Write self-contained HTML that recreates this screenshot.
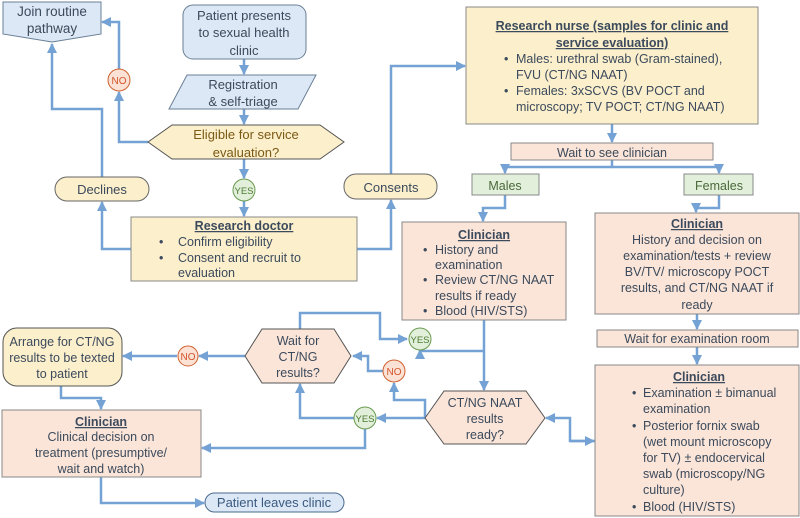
<!DOCTYPE html>
<html><head><meta charset="utf-8"><style>
html,body{margin:0;padding:0;background:#fff}
svg{display:block}
text{font-family:"Liberation Sans",sans-serif;font-size:12.5px;fill:#3b4a5c}
.c{text-anchor:middle}
.b{font-weight:bold;text-decoration:underline}
.ln{fill:none;stroke:#74a2d4;stroke-width:2.5}
</style></head><body>
<svg width="800" height="518" viewBox="0 0 800 518" xmlns="http://www.w3.org/2000/svg">
<defs>
<marker id="a" viewBox="0 0 10 10" refX="9" refY="5" markerWidth="4" markerHeight="4" orient="auto"><path d="M0,0L10,5L0,10z" fill="#74a2d4"/></marker>
</defs>
<g class="ln">
<path d="M244,59V74" marker-end="url(#a)"/>
<path d="M244,109V124" marker-end="url(#a)"/>
<path d="M244,159V178" marker-end="url(#a)"/>
<path d="M244,201V216" marker-end="url(#a)"/>
<path d="M148,142H119V92" marker-end="url(#a)"/>
<path d="M119,69V22H102" marker-end="url(#a)"/>
<path d="M102,177V109H52V44" marker-end="url(#a)"/>
<path d="M131,249H102V202" marker-end="url(#a)"/>
<path d="M357,249H391V200" marker-end="url(#a)"/>
<path d="M391,174V66H465" marker-end="url(#a)"/>
<path d="M612,124V142" marker-end="url(#a)"/>
<path d="M612,160V167H505V173" marker-end="url(#a)"/>
<path d="M612,167H719V173" marker-end="url(#a)"/>
<path d="M505,195V208H483V221" marker-end="url(#a)"/>
<path d="M719,195V208H696V212" marker-end="url(#a)"/>
<path d="M697,314V329" marker-end="url(#a)"/>
<path d="M697,347V364" marker-end="url(#a)"/>
<path d="M484,320V390" marker-end="url(#a)"/>
<path d="M484,351H420V350" marker-end="url(#a)"/>
<path d="M300,329V313H380V339H407" marker-end="url(#a)"/>
<path d="M425,418H377" marker-end="url(#a)"/>
<path d="M425,418V400H394V383" marker-end="url(#a)"/>
<path d="M383,371H368V356H353" marker-end="url(#a)"/>
<path d="M354,418H300V384" marker-end="url(#a)"/>
<path d="M365,429V448H202" marker-end="url(#a)"/>
<path d="M245,356H199" marker-end="url(#a)"/>
<path d="M177,356H123" marker-end="url(#a)"/>
<path d="M61,386V398H101V409" marker-end="url(#a)"/>
<path d="M101,477V503H204" marker-end="url(#a)"/>
<path d="M595,441H570V418H546" marker-end="url(#a)"/>
<path d="M570,441H594" marker-end="url(#a)"/>
</g>
<path d="M3,2H101V34L52,42L3,34Z" fill="#dce8f5" stroke="#6a7f96" stroke-width="1"/>
<text class="c" x="52" y="16" style="font-size:13.5px">Join routine</text>
<text class="c" x="52" y="33" style="font-size:13.5px">pathway</text>
<rect x="183" y="5" width="123" height="54" rx="10" fill="#dce8f5" stroke="#6a7f96"/>
<text class="c" x="244" y="20" style="font-size:13px">Patient presents</text>
<text class="c" x="244" y="37" style="font-size:13px">to sexual health</text>
<text class="c" x="244" y="55" style="font-size:13px">clinic</text>
<path d="M187,75H316L298,109H169Z" fill="#dce8f5" stroke="#6a7f96"/>
<text class="c" x="243" y="89" style="font-size:13px">Registration</text>
<text class="c" x="243" y="106" style="font-size:13px">&amp; self-triage</text>
<path d="M148,142L172,125H320L344,142L320,159H172Z" fill="#fcefcc" stroke="#555"/>
<text class="c" x="246" y="139" style="font-size:13px;fill:#7a5a14">Eligible for service</text>
<text class="c" x="246" y="157" style="font-size:13px;fill:#7a5a14">evaluation?</text>
<circle cx="119" cy="80" r="11" fill="#fbe2d5" stroke="#d0602f"/>
<text class="c" x="119" y="84" style="font-size:10px;fill:#d0552a">NO</text>
<circle cx="244" cy="190" r="11" fill="#e2efda" stroke="#6a9a50"/>
<text class="c" x="244" y="194" style="font-size:9.5px;fill:#4a7a30">YES</text>
<rect x="55" y="177" width="94" height="24" rx="12" fill="#fcefcc" stroke="#666"/>
<text class="c" x="102" y="194" style="font-size:13px">Declines</text>
<rect x="344" y="174" width="93" height="25" rx="12" fill="#fcefcc" stroke="#666"/>
<text class="c" x="391" y="192" style="font-size:13px">Consents</text>
<rect x="131" y="217" width="226" height="64" fill="#fcefcc" stroke="#888"/>
<text class="c b" x="244" y="230">Research doctor</text>
<text x="159" y="246">•</text><text x="178" y="246">Confirm eligibility</text>
<text x="159" y="262">•</text><text x="178" y="262">Consent and recruit to</text>
<text x="178" y="277">evaluation</text>
<rect x="466" y="7" width="292" height="117" fill="#fcefcc" stroke="#888"/>
<text class="c b" x="612" y="30">Research nurse (samples for clinic and</text>
<text class="c b" x="612" y="47">service evaluation)</text>
<text x="504" y="63">•</text><text x="516" y="63">Males: urethral swab (Gram-stained),</text>
<text x="516" y="79">FVU (CT/NG NAAT)</text>
<text x="504" y="95">•</text><text x="516" y="95">Females: 3xSCVS (BV POCT and</text>
<text x="516" y="111">microscopy; TV POCT; CT/NG NAAT)</text>
<rect x="511" y="143" width="202" height="17" fill="#fbe5d8" stroke="#888"/>
<text class="c" x="612" y="157">Wait to see clinician</text>
<rect x="472" y="174" width="67" height="21" fill="#e2efda" stroke="#888"/>
<text class="c" x="505" y="190" style="fill:#4a6a3a">Males</text>
<rect x="684" y="174" width="69" height="21" fill="#e2efda" stroke="#888"/>
<text class="c" x="719" y="190" style="fill:#4a6a3a">Females</text>
<rect x="402" y="222" width="164" height="98" fill="#fbe5d8" stroke="#888"/>
<text class="c b" x="484" y="239">Clinician</text>
<text x="423" y="254">•</text><text x="435" y="254">History and</text>
<text x="435" y="269">examination</text>
<text x="423" y="284">•</text><text x="435" y="284">Review CT/NG NAAT</text>
<text x="435" y="300">results if ready</text>
<text x="423" y="315">•</text><text x="435" y="315">Blood (HIV/STS)</text>
<rect x="595" y="213" width="204" height="101" fill="#fbe5d8" stroke="#888"/>
<text class="c b" x="697" y="228">Clinician</text>
<text class="c" x="697" y="244">History and decision on</text>
<text class="c" x="697" y="260">examination/tests + review</text>
<text class="c" x="697" y="276">BV/TV/ microscopy POCT</text>
<text class="c" x="697" y="292">results, and CT/NG NAAT if</text>
<text class="c" x="697" y="309">ready</text>
<rect x="597" y="330" width="201" height="17" fill="#fbe5d8" stroke="#888"/>
<text class="c" x="697" y="343">Wait for examination room</text>
<rect x="595" y="365" width="204" height="151" fill="#fbe5d8" stroke="#888"/>
<text class="c b" x="699" y="381">Clinician</text>
<text x="632" y="397">•</text><text x="643" y="397">Examination ± bimanual</text>
<text x="643" y="413">examination</text>
<text x="632" y="430">•</text><text x="643" y="430">Posterior fornix swab</text>
<text x="643" y="446">(wet mount microscopy</text>
<text x="643" y="462">for TV) ± endocervical</text>
<text x="643" y="478">swab (microscopy/NG</text>
<text x="643" y="494">culture)</text>
<text x="632" y="511">•</text><text x="643" y="511">Blood (HIV/STS)</text>
<path d="M425,418L444,391H526L545,418L526,444H444Z" fill="#fbe5d8" stroke="#555"/>
<text class="c" x="485" y="407">CT/NG NAAT</text>
<text class="c" x="485" y="423">results</text>
<text class="c" x="485" y="439">ready?</text>
<path d="M245,356L262,329H334L351,356L334,383H262Z" fill="#fbe5d8" stroke="#555"/>
<text class="c" x="298" y="345">Wait for</text>
<text class="c" x="298" y="361">CT/NG</text>
<text class="c" x="298" y="377">results?</text>
<circle cx="420" cy="339" r="11" fill="#e2efda" stroke="#6a9a50"/>
<text class="c" x="420" y="343" style="font-size:9.5px;fill:#4a7a30">YES</text>
<circle cx="365" cy="418" r="11" fill="#e2efda" stroke="#6a9a50"/>
<text class="c" x="365" y="422" style="font-size:9.5px;fill:#4a7a30">YES</text>
<circle cx="394" cy="371" r="11" fill="#fbe2d5" stroke="#d0602f"/>
<text class="c" x="394" y="375" style="font-size:10px;fill:#d0552a">NO</text>
<circle cx="188" cy="356" r="10" fill="#fbe2d5" stroke="#d0602f"/>
<text class="c" x="188" y="360" style="font-size:10px;fill:#d0552a">NO</text>
<rect x="3" y="328" width="119" height="58" rx="14" fill="#fcefcc" stroke="#555"/>
<text class="c" x="62" y="346">Arrange for CT/NG</text>
<text class="c" x="62" y="362">results to be texted</text>
<text class="c" x="62" y="378">to patient</text>
<rect x="2" y="410" width="199" height="67" fill="#fbe5d8" stroke="#888"/>
<text class="c b" x="101" y="426">Clinician</text>
<text class="c" x="101" y="441">Clinical decision on</text>
<text class="c" x="101" y="457">treatment (presumptive/</text>
<text class="c" x="101" y="473">wait and watch)</text>
<rect x="205" y="493" width="139" height="19" rx="9.5" fill="#dce8f5" stroke="#4a6a8f"/>
<text class="c" x="274" y="507" style="font-size:13px;fill:#3a5a80">Patient leaves clinic</text>
</svg>
</body></html>
